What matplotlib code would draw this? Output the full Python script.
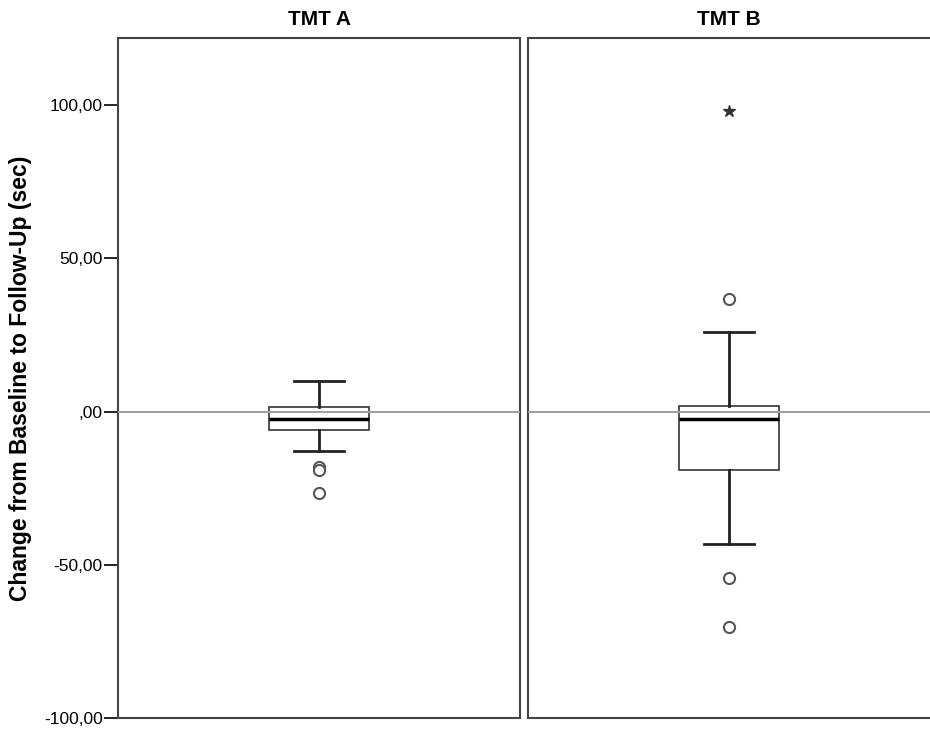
import matplotlib.pyplot as plt
from matplotlib.ticker import FuncFormatter

plt.rcParams['font.family'] = ['Liberation Sans', 'DejaVu Sans']

groups = ["TMT A", "TMT B"]
q1 = [-5.9, -19.2]
med = [-2.3, -2.3]
q3 = [1.6, 1.8]
whislo = [-13.0, -43.3]
whishi = [10.0, 26.0]
outliers = [[-18.0, -19.0, -26.4], [36.8, -54.4, -70.4]]
extremes = [[], [98.0]]

yticks = [-100, -50, 0, 50, 100]


def fmt(v, pos):
    s = "%.2f" % v
    s = s.replace(".", ",")
    if s.startswith("0,"):
        s = s[1:]
    return s


fig = plt.figure(figsize=(9.3, 7.36), dpi=100)
axes = [fig.add_axes([0.1269, 0.0245, 0.4323, 0.924]),
        fig.add_axes([0.5677, 0.0245, 0.4323, 0.924])]

for i, ax in enumerate(axes):
    stats = [{
        "med": med[i], "q1": q1[i], "q3": q3[i],
        "whislo": whislo[i], "whishi": whishi[i],
        "fliers": outliers[i],
    }]
    ax.axhline(0, color="#a0a0a0", lw=1.5, zorder=3)
    ax.bxp(stats, positions=[0], widths=0.5, patch_artist=True,
           boxprops=dict(facecolor="none", edgecolor="#333333", lw=1.2),
           medianprops=dict(color="black", lw=2.5),
           whiskerprops=dict(color="#222222", lw=2),
           capprops=dict(color="#222222", lw=2),
           capwidths=0.25,
           flierprops=dict(marker="o", markerfacecolor="white",
                           markeredgecolor="#555555", markersize=8,
                           markeredgewidth=1.5))
    if extremes[i]:
        ax.plot([0] * len(extremes[i]), extremes[i], linestyle="none",
                marker="*", color="#333333", markersize=9)
    ax.set_xlim(-1, 1)
    ax.set_ylim(-100, 122)
    ax.set_xticks([])
    ax.set_title(groups[i], fontsize=15, fontweight="bold", pad=9)
    for sp in ax.spines.values():
        sp.set_color("#444444")
        sp.set_linewidth(1.5)

axes[0].set_yticks(yticks)
axes[0].yaxis.set_major_formatter(FuncFormatter(fmt))
axes[0].tick_params(axis="y", length=10, width=1.2, labelsize=12.5, pad=1)
axes[0].set_ylabel("Change from Baseline to Follow-Up (sec)", fontsize=16.5,
                   fontweight="bold")
axes[0].yaxis.set_label_coords(-0.215, 0.5)
axes[1].set_yticks([])
axes[1].spines["right"].set_visible(False)

fig.savefig("out.png", dpi=100)
